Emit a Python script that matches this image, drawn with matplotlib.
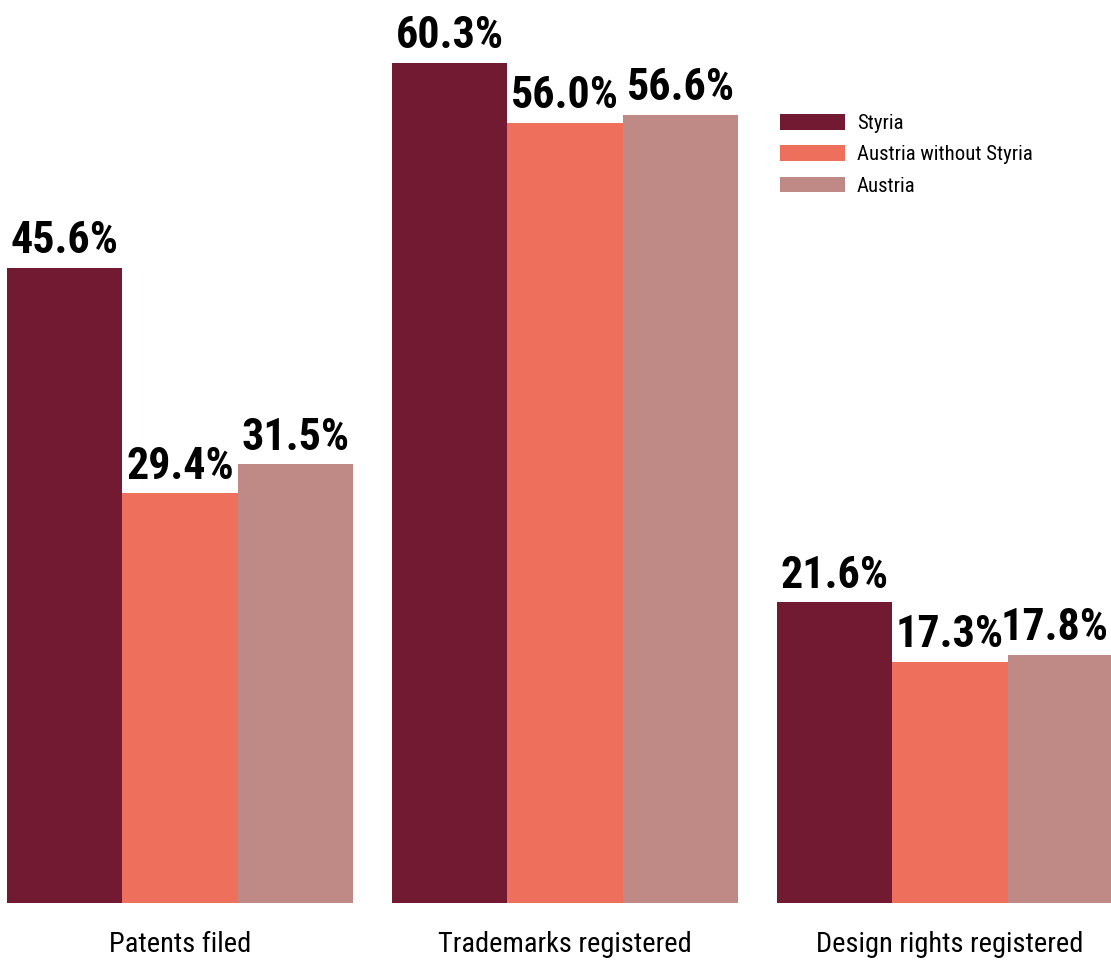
import matplotlib
matplotlib.use("Agg")
import matplotlib.pyplot as plt
import numpy as np
from matplotlib import font_manager

categories = ["Patents filed", "Trademarks registered", "Design rights registered"]
series_names = ["Styria", "Austria without Styria", "Austria"]
styria = [45.6, 60.3, 21.6]
austria_wo = [29.4, 56.0, 17.3]
austria = [31.5, 56.6, 17.8]
colors = ["#731A33", "#EE6F5C", "#BF8985"]

names = {f.name for f in font_manager.fontManager.ttflist}
cands = ["Liberation Sans Narrow", "Roboto Condensed", "Open Sans Condensed", "Noto Sans Condensed",
         "DejaVu Sans"]
main = next(c for c in cands if c in names)
fam = [main, "DejaVu Sans"]
stretch = "condensed"

W, H = 1111, 964
fig = plt.figure(figsize=(W / 100, H / 100), dpi=100)
renderer = fig.canvas.get_renderer()


def fit_size(s, target_px, weight="normal", base=20):
    t = fig.text(0, 0, s, fontsize=base, family=fam, fontweight=weight, fontstretch=stretch)
    w = t.get_window_extent(renderer).width
    t.remove()
    return base * target_px / w


val_size = fit_size("45.6%", 108, "bold")
cat_size = fit_size("Patents filed", 142)
leg_size = fit_size("Austria without Styria", 175)

ax = fig.add_axes([0, 61 / H, 1, 903 / H])
ax.set_xlim(-180 / 385, (W - 180) / 385)
ax.set_ylim(0, 903 / 13.93)

x = np.arange(len(categories))
bw = 0.3
labels = []
for i, (vals, name, c) in enumerate(zip([styria, austria_wo, austria], series_names, colors)):
    pos = x + (i - 1) * bw
    ax.bar(pos, vals, width=bw, color=c, label=name, edgecolor="none")
    for p, v in zip(pos, vals):
        a = ax.annotate(f"{v:.1f}%", (p, v), xytext=(0, 4), textcoords="offset points",
                        ha="center", va="bottom", fontsize=val_size, fontweight="bold",
                        family=fam, fontstretch=stretch, color="black", annotation_clip=False)
        labels.append(a)

for xi, cat in zip(x, categories):
    ax.annotate(cat, (xi, 0), xytext=(0, -30), textcoords="offset points",
                ha="center", va="center", fontsize=cat_size, family=fam, fontstretch=stretch,
                color="black", annotation_clip=False)

ax.axis("off")
leg = ax.legend(loc="upper left", bbox_to_anchor=(780 / W, 1 - 114 / H),
                bbox_transform=fig.transFigure, frameon=False, borderpad=0,
                prop={"family": fam, "size": leg_size, "stretch": stretch},
                handlelength=65 / (leg_size * 100 / 72), handleheight=16 / (leg_size * 100 / 72),
                handletextpad=12 / (leg_size * 100 / 72), labelspacing=0.6, borderaxespad=0)

# keep labels inside the figure's right edge
for a in labels:
    bb = a.get_window_extent(renderer)
    if bb.x1 > W - 3:
        shift = (bb.x1 - (W - 3)) * 72 / 100
        a.xyann = (a.xyann[0] - shift, a.xyann[1])

fig.savefig("out.png", dpi=100, facecolor="white")
